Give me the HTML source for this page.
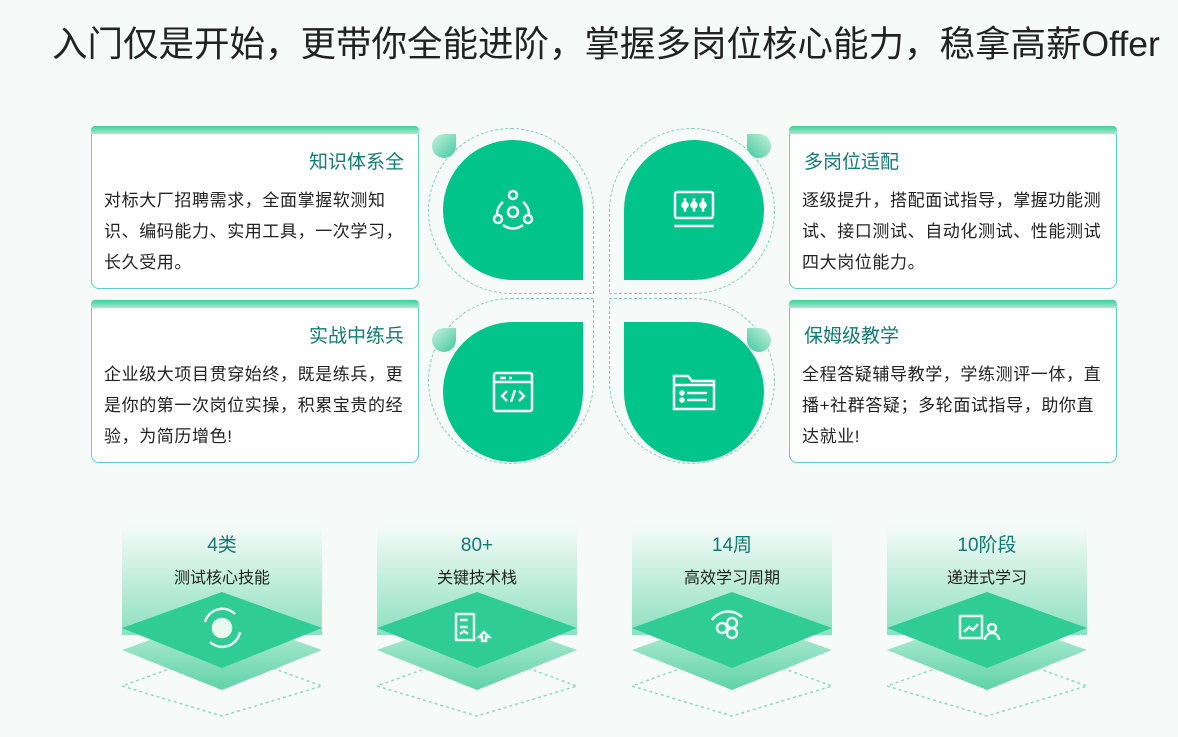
<!DOCTYPE html>
<html><head><meta charset="utf-8"><style>
body{margin:0;width:1178px;height:737px;background:#f6fbf9;font-family:"Liberation Sans","Noto Sans CJK SC",sans-serif;position:relative;overflow:hidden}
.t{position:absolute;left:52px;top:16px;font-size:35.5px;color:#222;white-space:nowrap;letter-spacing:0px}
.card{position:absolute;width:328px;background:#fff;border:1px solid #5fd0c8;border-top:none;border-radius:0 0 8px 8px;box-sizing:border-box}
.bar{position:absolute;left:-1px;right:-1px;top:-8px;height:8px;border-radius:4px 4px 0 0;background:linear-gradient(#3ccf99,#a6ead0)}
.card h3{margin:0;font-weight:normal;font-size:19px;color:#137a74;padding:13px 14px 0 14px;height:28px}
.card p{margin:10px 0 0 12px;width:304px;font-size:17px;letter-spacing:0.6px;line-height:31px;color:#222}
.petal{position:absolute;width:140px;height:140px;background:#00c48a;display:flex;align-items:center;justify-content:center}
.dash{position:absolute;width:166px;height:166px;border:1.5px dashed #7fcfb5;box-sizing:border-box}
.leaf{position:absolute;width:24px;height:24px;background:linear-gradient(135deg,#c9f0e2,#40c99a);border-radius:50% 0 50% 50%}
</style></head><body>
<div class="t">入门仅是开始，更带你全能进阶，掌握多岗位核心能力，稳拿高薪Offer</div>

<div class="card" style="left:91px;top:134px;height:155px"><div class="bar"></div><h3 style="text-align:right">知识体系全</h3><p>对标大厂招聘需求，全面掌握软测知识、编码能力、实用工具，一次学习，长久受用。</p></div>
<div class="card" style="left:91px;top:308px;height:155px"><div class="bar"></div><h3 style="text-align:right">实战中练兵</h3><p>企业级大项目贯穿始终，既是练兵，更是你的第一次岗位实操，积累宝贵的经验，为简历增色!</p></div>
<div class="card" style="left:789px;top:134px;height:155px"><div class="bar"></div><h3>多岗位适配</h3><p>逐级提升，搭配面试指导，掌握功能测试、接口测试、自动化测试、性能测试四大岗位能力。</p></div>
<div class="card" style="left:789px;top:308px;height:155px"><div class="bar"></div><h3>保姆级教学</h3><p>全程答疑辅导教学，学练测评一体，直播+社群答疑；多轮面试指导，助你直达就业!</p></div>

<div class="dash" style="left:428px;top:128px;border-radius:50% 50% 0 50%"></div>
<div class="dash" style="left:609px;top:128px;border-radius:50% 50% 50% 0"></div>
<div class="dash" style="left:428px;top:298px;border-radius:50% 0 50% 50%"></div>
<div class="dash" style="left:609px;top:298px;border-radius:0 50% 50% 50%"></div>

<div class="petal" style="left:443px;top:140px;border-radius:50% 50% 0 50%"><svg width="44" height="44" viewBox="0 0 44 44" fill="none" stroke="#fff" stroke-width="2.5"><circle cx="22" cy="7" r="4"/><circle cx="7" cy="31" r="4"/><circle cx="37" cy="31" r="4"/><path d="M12 14a16 16 0 0 0-6 12M32 14a16 16 0 0 1 6 12M12 37a16 16 0 0 0 20 0"/><circle cx="22" cy="24" r="5"/></svg></div>
<div class="petal" style="left:624px;top:140px;border-radius:50% 50% 50% 0"><svg width="44" height="40" viewBox="0 0 44 40" fill="none" stroke="#fff" stroke-width="2.5"><rect x="3" y="2" width="38" height="26" rx="2"/><path d="M2 36h40M13 8v14M22 8v14M31 8v14"/><circle cx="13" cy="15" r="2.5" fill="#fff"/><circle cx="22" cy="15" r="2.5" fill="#fff"/><circle cx="31" cy="15" r="2.5" fill="#fff"/></svg></div>
<div class="petal" style="left:443px;top:322px;border-radius:50% 0 50% 50%"><svg width="42" height="42" viewBox="0 0 42 42" fill="none" stroke="#fff" stroke-width="2.5"><rect x="2" y="2" width="38" height="38" rx="2"/><path d="M2 11h38M8 7h6M17 7h3M15 20l-5 5 5 5M27 20l5 5-5 5M23 19l-4 12"/></svg></div>
<div class="petal" style="left:624px;top:322px;border-radius:0 50% 50% 50%"><svg width="46" height="40" viewBox="0 0 46 40" fill="none" stroke="#fff" stroke-width="2.5"><path d="M3 4h14l4 5h22v28H3z"/><path d="M3 13h40"/><circle cx="11" cy="21" r="1.5" fill="#fff"/><circle cx="11" cy="28" r="1.5" fill="#fff"/><path d="M16 21h20M16 28h20"/></svg></div>

<div class="leaf" style="left:432px;top:134px"></div>
<div class="leaf" style="left:747px;top:134px;transform:scaleX(-1)"></div>
<div class="leaf" style="left:432px;top:328px"></div>
<div class="leaf" style="left:747px;top:328px;transform:scaleX(-1)"></div>

<svg width="1178" height="737" style="position:absolute;left:0;top:0" font-family="Liberation Sans,Noto Sans CJK SC,sans-serif">
<defs>
<linearGradient id="bg" x1="0" y1="0" x2="0" y2="1"><stop offset="0" stop-color="#f6fbf9"/><stop offset="1" stop-color="#8de0c0"/></linearGradient>
<linearGradient id="low" x1="0" y1="0" x2="0" y2="1"><stop offset="0" stop-color="#c4efdc"/><stop offset="1" stop-color="#5fd3a8"/></linearGradient>
</defs>
<g id="col">
<rect x="122" y="525" width="200" height="110" fill="url(#bg)"/>
<path d="M222 650 L322 686 L222 716 L122 686 Z" fill="none" stroke="#8fdcbf" stroke-width="1.5" stroke-dasharray="3,3"/>
<path d="M222 614 L322 650 L222 690 L122 650 Z" fill="url(#low)"/>
<path d="M222 592 L322 628 L222 668 L122 628 Z" fill="#2fcc96"/>
</g>
<use href="#col" x="255"/><use href="#col" x="510"/><use href="#col" x="765"/>
<g fill="#137a74" font-size="19" text-anchor="middle"><text x="222" y="551">4类</text><text x="477" y="551">80+</text><text x="732" y="551">14周</text><text x="987" y="551">10阶段</text></g>
<g fill="#222" font-size="16" text-anchor="middle"><text x="222" y="583">测试核心技能</text><text x="477" y="583">关键技术栈</text><text x="732" y="583">高效学习周期</text><text x="987" y="583">递进式学习</text></g>
<g fill="none" stroke="#e8fbf3" stroke-width="2.5">
<circle cx="222" cy="628" r="9" fill="#e8fbf3"/><path d="M205 622a18 18 0 0 1 30-8M240 632a18 18 0 0 1-30 10"/>
<rect x="456" y="614" width="18" height="26"/><path d="M460 620h8M460 627h8M460 634l4-3 4 3"/><path d="M484 632l-5 5h3v4h4v-4h3z"/>
<circle cx="722" cy="628" r="5"/><circle cx="732" cy="623" r="5"/><circle cx="732" cy="633" r="5"/><path d="M712 620a20 20 0 0 1 30-3"/>
<rect x="960" y="616" width="22" height="22"/><path d="M964 632l5-5 4 3 5-6"/><circle cx="992" cy="628" r="4"/><path d="M985 640a7 7 0 0 1 14 0"/>
</g>
</svg>
</body></html>
